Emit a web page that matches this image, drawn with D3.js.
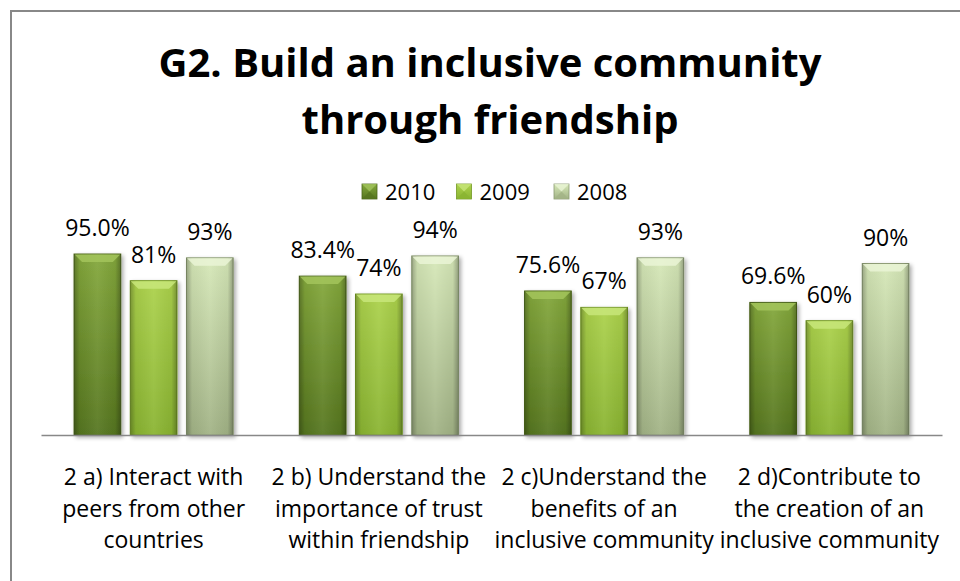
<!DOCTYPE html>
<html>
<head>
<meta charset="utf-8">
<script src="https://cdn.jsdelivr.net/npm/d3@7"></script>
<style>
  html, body { margin: 0; padding: 0; background: #fff; }
  svg { display: block; }
  text { font-family: "Open Sans", "Noto Sans", sans-serif; fill: #000; }
</style>
</head>
<body>
<svg id="chart" width="960" height="581"></svg>
<script>
// ---- data ----
const titleLines = ["G2. Build an inclusive community", "through friendship"];
const series = ["2010", "2009", "2008"];
const categories = [
  "2 a) Interact with peers from other countries",
  "2 b) Understand the importance of trust within friendship",
  "2 c)Understand the benefits of an inclusive community",
  "2 d)Contribute to the creation of an inclusive community"
];
const categoryLines = [
  ["2 a) Interact with", "peers from other", "countries"],
  ["2 b) Understand the", "importance of trust", "within friendship"],
  ["2 c)Understand the", "benefits of an", "inclusive community"],
  ["2 d)Contribute to", "the creation of an", "inclusive community"]
];
const values2010 = [95.0, 83.4, 75.6, 69.6];
const values2009 = [81, 74, 67, 60];
const values2008 = [93, 94, 93, 90];
const labels2010 = ["95.0%", "83.4%", "75.6%", "69.6%"];
const labels2009 = ["81%", "74%", "67%", "60%"];
const labels2008 = ["93%", "94%", "93%", "90%"];

const seriesValues = [values2010, values2009, values2008];
const seriesLabels = [labels2010, labels2009, labels2008];

const palette = {
  "2010": { top: "#84a83c", bottom: "#56761f", stroke: "#4b661a", bevel: "#a3c45c" },
  "2009": { top: "#acd24c", bottom: "#8ab432", stroke: "#739824", bevel: "#c8e67a" },
  "2008": { top: "#d6e8b8", bottom: "#a2b386", stroke: "#8a9a72", bevel: "#eaf5d6" }
};

const rows = [];
categories.forEach((c, i) => {
  series.forEach((s, j) => {
    rows.push({ cat: c, series: s, value: seriesValues[j][i], label: seriesLabels[j][i] });
  });
});

// ---- layout ----
const svg = d3.select("#chart");
const plotLeft = 41, plotRight = 942, baseY = 435;

const x0 = d3.scaleBand().domain(categories).range([plotLeft, plotRight]).paddingInner(0).paddingOuter(0);
const x1 = d3.scaleBand().domain(series).range([0, x0.bandwidth()]).paddingInner(0.169).paddingOuter(0.588);
const y = d3.scaleLinear().domain([0, 100]).range([baseY, 244.5]);

// defs
const defs = svg.append("defs");
series.forEach(s => {
  const p = palette[s];
  const g = defs.append("linearGradient").attr("id", "v" + s).attr("x1", 0).attr("y1", 0).attr("x2", 0).attr("y2", 1);
  g.append("stop").attr("offset", "0%").attr("stop-color", p.top);
  g.append("stop").attr("offset", "100%").attr("stop-color", p.bottom);
});
const hg = defs.append("linearGradient").attr("id", "edge").attr("x1", 0).attr("y1", 0).attr("x2", 1).attr("y2", 0);
hg.append("stop").attr("offset", "0%").attr("stop-color", "#000").attr("stop-opacity", 0.28);
hg.append("stop").attr("offset", "12%").attr("stop-color", "#000").attr("stop-opacity", 0.05);
hg.append("stop").attr("offset", "50%").attr("stop-color", "#fff").attr("stop-opacity", 0.06);
hg.append("stop").attr("offset", "88%").attr("stop-color", "#000").attr("stop-opacity", 0.05);
hg.append("stop").attr("offset", "100%").attr("stop-color", "#000").attr("stop-opacity", 0.3);
const sh = defs.append("filter").attr("id", "shadow").attr("x", "-20%").attr("y", "-10%").attr("width", "150%").attr("height", "130%");
sh.append("feGaussianBlur").attr("in", "SourceAlpha").attr("stdDeviation", 2).attr("result", "b");
sh.append("feOffset").attr("in", "b").attr("dx", 2).attr("dy", 2).attr("result", "o");
sh.append("feComponentTransfer").attr("in", "o").attr("result", "o2")
  .append("feFuncA").attr("type", "linear").attr("slope", 0.35);
const m = sh.append("feMerge");
m.append("feMergeNode").attr("in", "o2");
m.append("feMergeNode").attr("in", "SourceGraphic");

// chart border
svg.append("rect").attr("x", 11).attr("y", 11).attr("width", 970).attr("height", 600)
  .attr("fill", "none").attr("stroke", "#888").attr("stroke-width", 2);

// title
const titleCx = 490;
svg.append("text").attr("x", titleCx).attr("y", 77).attr("text-anchor", "middle")
  .style("font-size", "40px").style("font-weight", "bold").text(titleLines[0]);
svg.append("text").attr("x", titleCx).attr("y", 134).attr("text-anchor", "middle")
  .style("font-size", "40px").style("font-weight", "bold").text(titleLines[1]);

// legend
const legendX = [362, 456.5, 554];
const lg = svg.append("g");
series.forEach((s, j) => {
  const p = palette[s];
  const gi = lg.append("g").attr("transform", `translate(${legendX[j]},184)`);
  const sz = 15;
  gi.append("rect").attr("width", sz).attr("height", sz).attr("fill", `url(#v${s})`).attr("stroke", p.stroke).attr("stroke-width", 0.8);
  gi.append("polygon").attr("points", `0,0 ${sz},0 ${sz/2},${sz/2}`).attr("fill", p.bevel).attr("opacity", 0.8);
  gi.append("polygon").attr("points", `0,${sz} ${sz},${sz} ${sz/2},${sz/2}`).attr("fill", p.bottom).attr("opacity", 0.8);
  gi.append("text").attr("x", 23).attr("y", 15.5).style("font-size", "22px").text(s);
});

// bars
const bars = svg.append("g").selectAll("g.bar").data(rows).join("g")
  .attr("class", "bar")
  .attr("transform", d => `translate(${x0(d.cat) + x1(d.series)},0)`);

bars.append("rect")
  .attr("x", 0).attr("y", d => y(d.value))
  .attr("width", x1.bandwidth()).attr("height", d => baseY - y(d.value))
  .attr("fill", d => `url(#v${d.series})`)
  .attr("stroke", d => palette[d.series].stroke).attr("stroke-width", 1)
  .attr("filter", "url(#shadow)");
bars.append("rect")
  .attr("x", 0).attr("y", d => y(d.value))
  .attr("width", x1.bandwidth()).attr("height", d => baseY - y(d.value))
  .attr("fill", "url(#edge)");
// top bevel
bars.append("polygon")
  .attr("points", d => {
    const w = x1.bandwidth(), t = y(d.value), b = 8;
    return `0.5,${t + 0.5} ${w - 0.5},${t + 0.5} ${w - b},${t + b} ${b},${t + b}`;
  })
  .attr("fill", d => palette[d.series].bevel).attr("opacity", 0.85);

// value labels
bars.append("text")
  .attr("x", x1.bandwidth() / 2).attr("y", d => y(d.value) - 18)
  .attr("text-anchor", "middle").style("font-size", "23px")
  .text(d => d.label);

// axis line
const xAxis = d3.axisBottom(x0).tickSize(0).tickFormat("");
const ax = svg.append("g").attr("transform", `translate(0,${baseY})`).call(xAxis);
ax.select(".domain").attr("stroke", "#888").attr("stroke-width", 1.5);

// category labels
categories.forEach((c, i) => {
  const cx = x0(c) + x0.bandwidth() / 2;
  const t = svg.append("text").attr("text-anchor", "middle").style("font-size", "23px");
  categoryLines[i].forEach((ln, k) => {
    t.append("tspan").attr("x", cx).attr("y", 485 + k * 31.5).text(ln);
  });
});
</script>
</body>
</html>
